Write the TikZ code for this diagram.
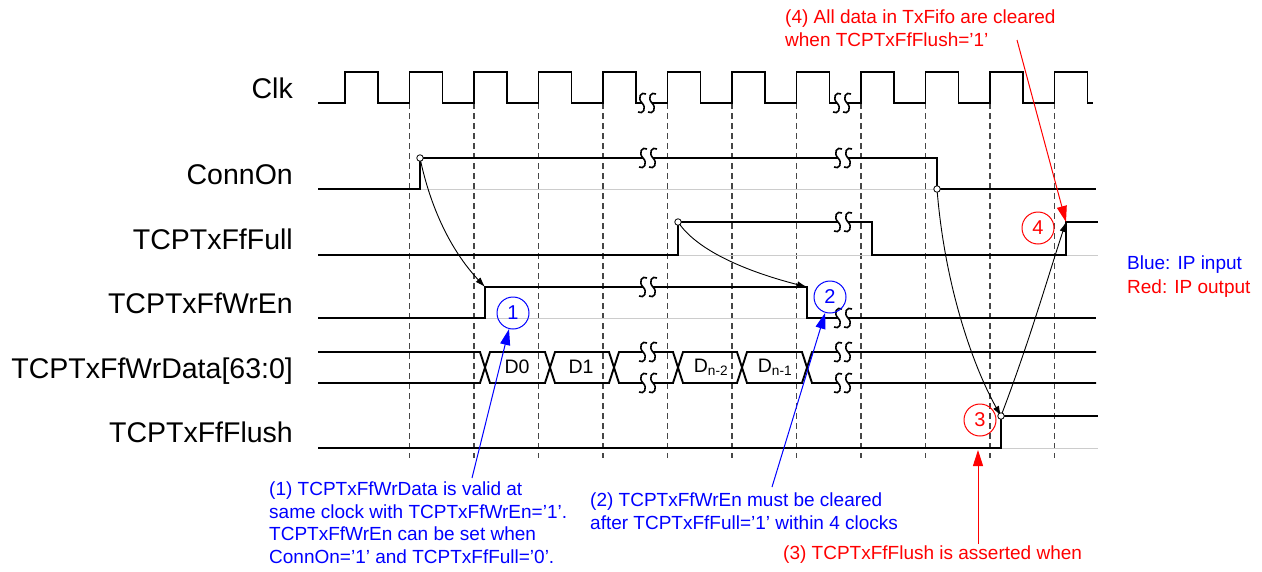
\documentclass[tikz,border=0pt]{standalone}
\usepackage{fontspec}
\setmainfont{Liberation Sans}
\usepackage{tikz}
\usetikzlibrary{arrows.meta}
\usepackage{xcolor}
\definecolor{ipblue}{RGB}{0,0,255}
\definecolor{ipred}{RGB}{255,0,0}

% break mark on a waveform line at (x,y)
\newcommand{\wavebreak}[2]{%
  \fill[white] (#1-5,#2-2) rectangle (#1+5,#2+2);
  \foreach \dx in {-5,5}{
    \draw[line width=1.6pt] (#1+\dx+4,#2-9) .. controls (#1+\dx-1,#2-12) and (#1+\dx-5,#2-5) .. (#1+\dx,#2)
      .. controls (#1+\dx+5,#2+5) and (#1+\dx+1,#2+12) .. (#1+\dx-4,#2+9);
  }%
}

\begin{document}
\begin{tikzpicture}[x=1pt,y=-1pt,
  sig/.style={line width=1.9pt,line join=miter},
  otherlevel/.style={line width=1pt,gray!40},
  clkgrid/.style={gray!55!black,line width=1.5pt,dash pattern=on 6pt off 4pt},
  lbl/.style={anchor=base east,inner sep=0pt,font=\fontsize{28.5}{34}\selectfont},
  dlbl/.style={inner sep=0pt,font=\fontsize{19.5}{20}\selectfont},
  note/.style={anchor=north west,inner sep=0pt,align=left,font=\fontsize{19}{22.5}\selectfont},
  num/.style={circle,draw,line width=1pt,minimum size=32pt,inner sep=0pt,font=\fontsize{20}{20}\selectfont},
  edgemark/.style={circle,draw,fill=white,line width=0.8pt,minimum size=6.5pt,inner sep=0pt},
  cause/.style={line width=0.9pt,-{Latex[length=10pt,width=6.5pt]}},
  hint/.style={line width=1pt,-{Triangle[length=16pt,width=10pt]}}]
\useasboundingbox (0,0) rectangle (1262,571);

\foreach \k in {1,...,11}
  \draw[clkgrid] (345+64.5*\k,103) -- (345+64.5*\k,458);

% signal names
\node[lbl] (lclk) at (293,98) {Clk};
\node[lbl] (lconn) at (293,184) {ConnOn};
\node[lbl] (lfull) at (293,249) {TCPTxFfFull};
\node[lbl] (lwren) at (293,313) {TCPTxFfWrEn};
\node[lbl] (ldata) at (293,378) {TCPTxFfWrData[63:0]};
\node[lbl] (lflush) at (293,442) {TCPTxFfFlush};

% waveforms
\draw[sig] (318,103) \foreach \k in {0,...,11}{ -- (345+64.5*\k,103) -- ++(0,-31) -- ++(33,0) -- ++(0,31) } -- (1093,103);

\draw[otherlevel] (420,189) -- (937,189);
\draw[sig] (318,189) -- (420,189) -- (420,158) -- (937,158) -- (937,189) -- (1096,189);

\draw[otherlevel] (678,255) -- (872,255) (1066,255) -- (1098,255);
\draw[sig] (318,255) -- (678,255) -- (678,222) -- (872,222) -- (872,255) -- (1066,255) -- (1066,222) -- (1098,222);

\draw[otherlevel] (485,318) -- (807,318);
\draw[sig] (318,318) -- (485,318) -- (485,287) -- (807,287) -- (807,318) -- (1096,318);

\draw[sig] (318,352) -- (480,352) -- (490,383) -- (545,383) -- (555,352) -- (609,352) -- (619,383) -- (673,383) -- (683,352) -- (737,352) -- (747,383) -- (802,383) -- (812,352) -- (1096,352);
\draw[sig] (318,383) -- (480,383) -- (490,352) -- (545,352) -- (555,383) -- (609,383) -- (619,352) -- (673,352) -- (683,383) -- (737,383) -- (747,352) -- (802,352) -- (812,383) -- (1096,383);
\node[dlbl] (d0) at (517,367) {D0};
\node[dlbl] (d1) at (581,367) {D1};
\node[dlbl] (dn2) at (711,367) {D\textsubscript{n-2}};
\node[dlbl] (dn1) at (775,367) {D\textsubscript{n-1}};

\draw[otherlevel] (1001,448) -- (1098,448);
\draw[sig] (318,448) -- (1001,448) -- (1001,416) -- (1098,416);

\wavebreak{647}{103} \wavebreak{842}{103}
\wavebreak{648}{158} \wavebreak{843}{158}
\wavebreak{843}{222}
\wavebreak{648}{287} \wavebreak{843}{318}
\wavebreak{648}{352} \wavebreak{648}{383}
\wavebreak{843}{352} \wavebreak{843}{383}

% edges
\coordinate (connrise) at (420,158);
\coordinate (connfall) at (937,189);
\coordinate (fullhi) at (678,222);
\coordinate (fullrise) at (1066,222);
\coordinate (wrenrise) at (485,287);
\coordinate (wrenfall) at (807,287);
\coordinate (flushrise) at (1001,416);
\coordinate (flushlow) at (978,450);

\draw[cause] (connrise) .. controls (432,215) and (455,255) .. (wrenrise);
\draw[cause] (fullhi) .. controls (700,255) and (760,275) .. (wrenfall);
\draw[cause] (connfall) .. controls (945,290) and (975,370) .. (flushrise);
\draw[cause] (flushrise) .. controls (1030,340) and (1050,270) .. (fullrise);
\foreach \p in {connrise,fullhi,connfall,flushrise}
  \node[edgemark] at (\p) {};

% notes
\node[num,ipblue] (c1) at (513,313) {1};
\node[num,ipblue] (c2) at (830,297) {2};
\node[num,ipred] (c3) at (980,420) {3};
\node[num,ipred] (c4) at (1038,228) {4};

\node[note,ipblue] (t1) at (269,482) {(1) TCPTxFfWrData is valid at\\same clock with TCPTxFfWrEn='1'.\\TCPTxFfWrEn can be set when\\ConnOn='1' and TCPTxFfFull='0'.};
\node[note,ipblue] (t2) at (590,493) {(2) TCPTxFfWrEn must be cleared\\after TCPTxFfFull='1' within 4 clocks};
\node[note,ipred] (t3) at (783,546) {(3) TCPTxFfFlush is asserted when};
\node[note,ipred] (t4) at (785,10) {(4) All data in TxFifo are cleared\\when TCPTxFfFlush='1'};
\node[note,font=\fontsize{19}{24}\selectfont] (legend) at (1127,256) {\textcolor{ipblue}{Blue: IP input}\\\textcolor{ipred}{Red: IP output}};

\draw[hint,ipblue] ([xshift=203pt,yshift=4pt]t1.north west) -- (c1);
\draw[hint,ipblue] ([xshift=182pt,yshift=6pt]t2.north west) -- (c2);
\draw[hint,ipred] ([xshift=195pt,yshift=2pt]t3.north west) -- (flushlow);
\draw[hint,ipred] ([xshift=232pt,yshift=-30pt]t4.north west) -- (fullrise);
\end{tikzpicture}
\end{document}
